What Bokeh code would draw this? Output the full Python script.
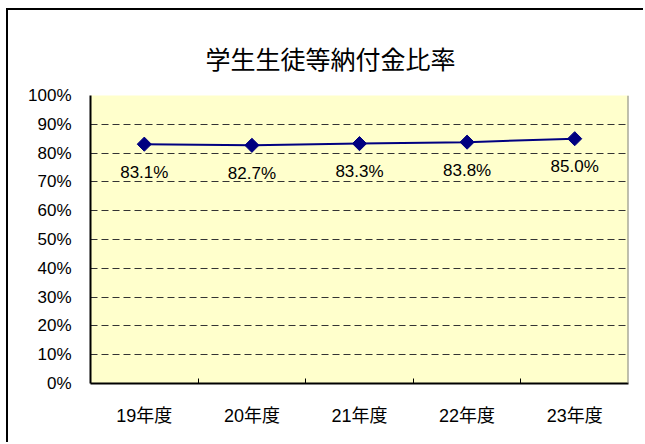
from bokeh.plotting import figure
from bokeh.models import Range1d, FixedTicker, Span, ColumnDataSource
from bokeh.core.properties import value
from bokeh.embed import file_html
from bokeh.resources import INLINE

title_text = "学生生徒等納付金比率"
years = ["19年度", "20年度", "21年度", "22年度", "23年度"]
rates = [83.1, 82.7, 83.3, 83.8, 85.0]
y_ticks = [0, 10, 20, 30, 40, 50, 60, 70, 80, 90, 100]

LAT = "'Liberation Sans', Arial, 'Noto Sans CJK JP'"

xs = [i + 0.5 for i in range(len(years))]
src = ColumnDataSource(dict(x=xs, y=rates, lbl=[f"{r:.1f}%" for r in rates]))

p = figure(width=637, height=434, output_backend="svg", toolbar_location=None,
           x_range=Range1d(0, len(years)), y_range=Range1d(0, 100),
           min_border_left=82, min_border_right=17, min_border_top=85, min_border_bottom=61)
p.styles = {"border-left": "2px solid black", "border-top": "2px solid black",
            "margin-left": "6px", "margin-top": "8px"}
p.background_fill_color = "#FFFFCC"
p.border_fill_color = "white"
p.outline_line_color = None

p.title.text = title_text
p.title.align = "left"
p.title.offset = 115
p.title.standoff = 39
p.title.text_font = "'Noto Sans CJK JP'"
p.title.text_font_size = "25px"
p.title.text_font_style = "normal"
p.title.text_color = "black"

# x axis
p.xaxis.ticker = FixedTicker(ticks=xs, minor_ticks=list(range(1, len(years))))
p.xaxis.major_label_overrides = {x: t for x, t in zip(xs, years)}
p.xaxis.major_tick_line_color = None
p.xaxis.minor_tick_in = 5
p.xaxis.minor_tick_out = 0
p.xaxis.minor_tick_line_color = "black"
p.xaxis.axis_line_width = 2
p.xaxis.axis_line_color = "black"
p.xaxis.major_label_text_font = LAT
p.xaxis.major_label_text_font_size = "18px"
p.xaxis.major_label_text_color = "black"
p.xaxis.major_label_standoff = 16

# y axis
p.yaxis.ticker = FixedTicker(ticks=y_ticks)
p.yaxis.major_label_overrides = {v: f"{v}%" for v in y_ticks}
p.yaxis.major_tick_line_color = None
p.yaxis.minor_tick_line_color = None
p.yaxis.axis_line_width = 2
p.yaxis.axis_line_color = "black"
p.yaxis.major_label_text_font = LAT
p.yaxis.major_label_text_font_size = "17px"
p.yaxis.major_label_text_color = "black"
p.yaxis.major_label_standoff = 13

p.xgrid.grid_line_color = None
p.ygrid.grid_line_color = "#333333"
p.ygrid.grid_line_dash = "7 4"
p.ygrid.grid_line_width = 1

p.add_layout(Span(location=len(years), dimension="height", line_color="#808080", line_width=2))

p.line("x", "y", source=src, line_color="#000080", line_width=2)
p.scatter("x", "y", source=src, marker="square", angle=0.785398, size=10,
          fill_color="#000080", line_color="#000080")
p.text("x", "y", text="lbl", source=src, y_offset=28, text_align="center",
       text_baseline="middle", text_font=value("Liberation Sans"),
       text_font_size="17px", text_color="black")

open("out.html", "w").write(file_html(p, INLINE))
